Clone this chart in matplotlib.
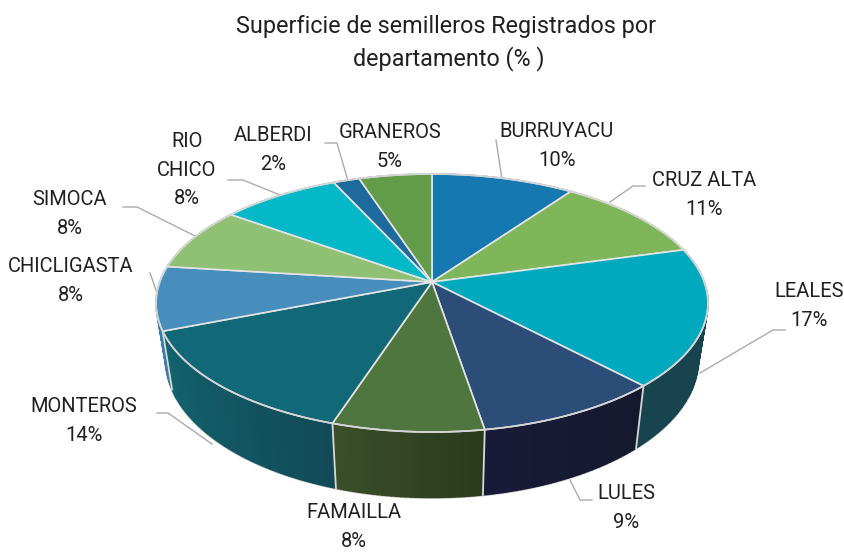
import numpy as np
import matplotlib
matplotlib.use('Agg')
import matplotlib.pyplot as plt
from matplotlib.colors import to_rgb

# Datos
departamentos = ['BURRUYACU', 'CRUZ ALTA', 'LEALES', 'LULES', 'FAMAILLA', 'MONTEROS',
                 'CHICLIGASTA', 'SIMOCA', 'RIO\nCHICO', 'ALBERDI', 'GRANEROS']
porcentajes = [9.8, 10.9, 17.3, 9.4, 7.6, 14, 8, 8, 8.2, 1.8, 5]

# Estilo
colores = ['#1578b0', '#7fb65a', '#00a9bd', '#2c4d78', '#50763f', '#116876',
           '#478ebd', '#90c074', '#05b8c8', '#1f6a9c', '#629c48']
lado_a = ['#0e4f74', '#55793c', '#17444f', '#15192e', '#2a3a1c', '#124a58',
          '#3a7cac', '#60804d', '#037a85', '#154668', '#41682f']
lado_b = ['#0e4f74', '#55793c', '#17444f', '#191a38', '#3b4f2a', '#11656f',
          '#4a90c0', '#60804d', '#037a85', '#154668', '#41682f']
pos_etiquetas = [(557, 146), (704, 195), (809, 306), (626, 508), (354, 527), (84, 421),
                 (71, 281), (70, 214), (187, 170), (273, 150), (390, 147)]
lineas = [[(496, 140), (502, 179)],
          [(645, 186), (633, 186), (610, 202)],
          [(785, 330), (773, 330), (700, 373)],
          [(592, 500), (580, 500), (570, 480)],
          None,
          [(157, 413), (168, 413), (212, 444)],
          [(150, 273), (157, 293)],
          [(123, 207), (137, 207), (195, 236)],
          [(228, 180), (243, 180), (280, 195)],
          [(325, 143), (337, 143), (348, 181)],
          None]

cx, cy = 432, 282
B, A, k = 272.3, 125.6, 0.1628


def arriba(t):
    u, v = np.sin(t), -np.cos(t)
    d = 1 - k * v
    return cx + B * u / d, cy + A * v / d


def abajo(t):
    u, v = np.sin(t), -np.cos(t)
    d = 1 - k * v
    return cx + 0.965 * B * u / d, cy + 55 + 1.07 * A * v / d


plt.rcParams['font.family'] = ['Roboto', 'Liberation Sans']
plt.rcParams['font.stretch'] = 'condensed'
fig = plt.figure(figsize=(8.45, 5.53), dpi=100)
ax = fig.add_axes([0, 0, 1, 1])
ax.set_xlim(0, 845)
ax.set_ylim(553, 0)
ax.axis('off')

limites = np.cumsum([0] + porcentajes) / sum(porcentajes) * 2 * np.pi

# lineas guia
for ln in lineas:
    if ln:
        xs, ys = zip(*ln)
        ax.plot(xs, ys, color='#ababab', lw=1, zorder=1)

# contorno inferior
t = np.linspace(0, 2 * np.pi, 400)
ax.plot(*abajo(t), color='#c4c4c4', lw=2, zorder=2)

# lado del cilindro por tiras
tiras = []
for i in range(len(porcentajes)):
    ts = np.linspace(limites[i], limites[i + 1], int(porcentajes[i] * 4) + 2)
    ca, cb = np.array(to_rgb(lado_a[i])), np.array(to_rgb(lado_b[i]))
    for j in range(len(ts) - 1):
        f = j / max(len(ts) - 2, 1)
        tiras.append((ts[j], ts[j + 1], ca + (cb - ca) * f))
tiras.sort(key=lambda s: -np.cos(s[0]))
for t0, t1, col in tiras:
    x0, y0 = arriba(t0)
    x1, y1 = arriba(t1)
    x2, y2 = abajo(t1)
    x3, y3 = abajo(t0)
    ax.fill([x0, x1, x2, x3], [y0, y1, y2, y3], facecolor=col, edgecolor=col, lw=1.0, zorder=3)

# aristas verticales visibles
for b in limites[:-1]:
    if -np.cos(b) > 0.1:
        x0, y0 = arriba(b)
        x1, y1 = abajo(b)
        ax.plot([x0, x1], [y0, y1], color='#d8d8d8', lw=1.3, zorder=4)

# tapa
for i in range(len(porcentajes)):
    ts = np.linspace(limites[i], limites[i + 1], 80)
    xs, ys = arriba(ts)
    ax.fill(np.r_[cx, xs], np.r_[cy, ys], facecolor=colores[i], edgecolor='#e4e4e4',
            lw=1.2, joinstyle='round', zorder=5)
ax.plot(*arriba(t), color='#d4d4d4', lw=1.2, zorder=6)

# textos
ax.text(446, 27, 'Superficie de semilleros Registrados por', ha='center', va='center',
        fontsize=16.8, color='#231f20')
ax.text(449, 59, 'departamento (% )', ha='center', va='center', fontsize=16.8, color='#231f20')
for nombre, p, (x, y) in zip(departamentos, porcentajes, pos_etiquetas):
    ax.text(x, y, f'{nombre}\n{p:.0f}%', ha='center', va='center', fontsize=14.5,
            color='#231f20', linespacing=1.62)

fig.savefig('out.png', dpi=100)
